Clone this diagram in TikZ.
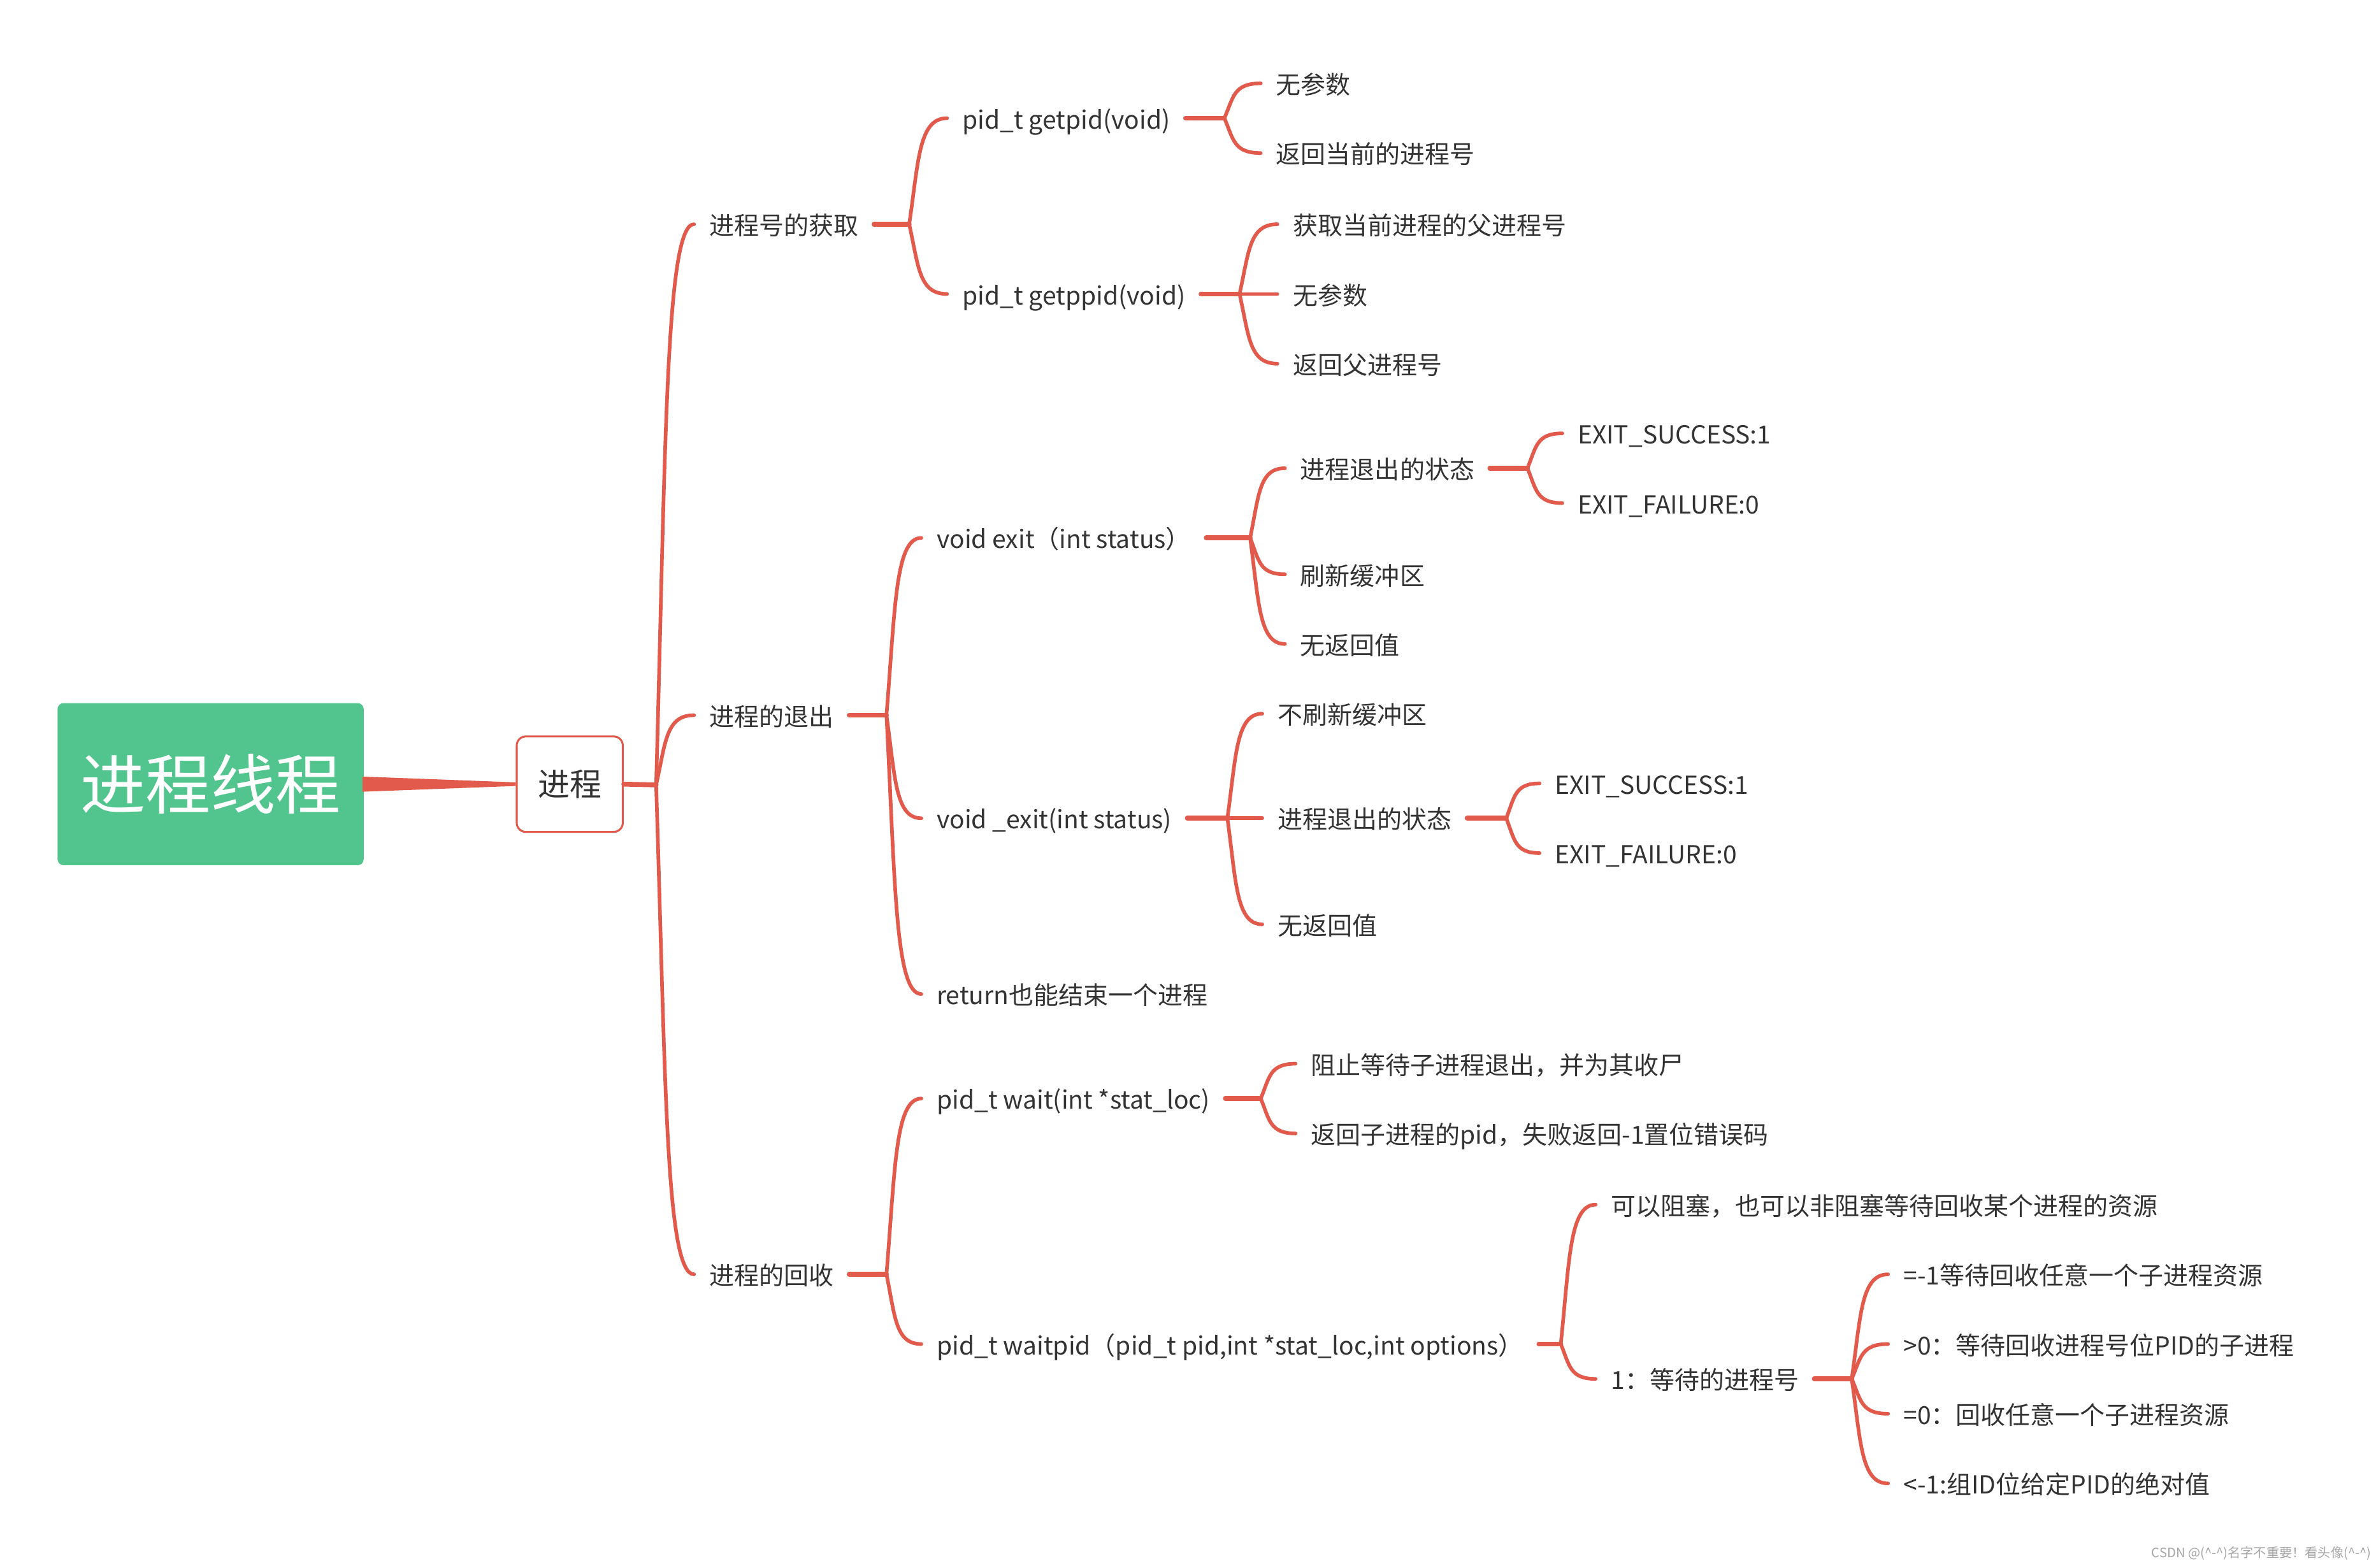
\documentclass[tikz,border=0pt]{standalone}
\usepackage{fontspec}
\setmainfont{Noto Sans CJK SC}
\usetikzlibrary{calc}
\definecolor{lineRed}{HTML}{E25A4C}
\definecolor{rootGreen}{HTML}{52C48D}
\definecolor{txt}{HTML}{333333}
\begin{document}
\begin{tikzpicture}[x=1pt,y=-1pt,
 leaf/.style={anchor=west, inner xsep=10pt, inner ysep=0pt, text=txt, font=\fontsize{16.4}{20}\selectfont, text height=15pt, text depth=1pt},
 branch/.style={draw=lineRed, line width=2.4pt, line cap=round, to path={let \p1=(\tikztostart), \p2=(\tikztotarget) in .. controls ({\x1+0.25*(\x2-\x1)}, {\y1+0.6*(\y2-\y1)}) and ({\x1+0.25*(\x2-\x1)}, \y2) .. (\tikztotarget)}},
 stub/.style={draw=lineRed, line width=3.2pt, line cap=round}]
\fill[white] (0,0) rectangle (1568,1034.4);
\useasboundingbox (0,0) rectangle (1568,1034.4);

% root and main
\node[fill=rootGreen, rounded corners=4pt, minimum width=202pt, minimum height=107pt, text=white, font=\fontsize{43}{50}\selectfont, inner sep=0pt] (root) at (139,517.5) {进程线程};
\node[draw=lineRed, line width=1.3pt, fill=white, rounded corners=6pt, minimum width=70pt, minimum height=63pt, text=txt, font=\fontsize{21}{25}\selectfont, inner sep=0pt] (proc) at (376,517.5) {进程};
\fill[lineRed] ($(root.east)+(-1,-5)$) -- ($(root.east)+(-1,5)$) -- ($(proc.west)+(0,1.2)$) -- ($(proc.west)+(0,-1.2)$) -- cycle;
\coordinate (J0) at (433,518);
\draw[stub] (proc.east) -- (J0);

% level 1
\node[leaf] (n1) at (458,148) {进程号的获取};
\node[leaf] (n2) at (458,472) {进程的退出};
\node[leaf] (n3) at (458,841) {进程的回收};
\draw[branch] (J0) to (n1.west);
\draw[branch] (J0) to (n2.west);
\draw[branch] (J0) to (n3.west);

% branch 1
\coordinate (J1) at (600,148);
\draw[stub] (n1.east) -- (J1);
\node[leaf] (n11) at (625,78) {pid\_t getpid(void)};
\node[leaf] (n12) at (625,194) {pid\_t getppid(void)};
\draw[branch] (J1) to (n11.west);
\draw[branch] (J1) to (n12.west);
\coordinate (J11) at (808,78);
\draw[stub] (n11.east) -- (J11);
\node[leaf] (n111) at (832,55) {无参数};
\node[leaf] (n112) at (832,101) {返回当前的进程号};
\draw[branch] (J11) to (n111.west);
\draw[branch] (J11) to (n112.west);
\coordinate (J12) at (818,194);
\draw[stub] (n12.east) -- (J12);
\node[leaf] (n121) at (843,148) {获取当前进程的父进程号};
\node[leaf] (n122) at (843,194) {无参数};
\node[leaf] (n123) at (843,240) {返回父进程号};
\draw[branch] (J12) to (n121.west);
\draw[branch] (J12) to (n122.west);
\draw[branch] (J12) to (n123.west);

% branch 2
\coordinate (J2) at (585,472);
\draw[stub] (n2.east) -- (J2);
\node[leaf] (n21) at (608,355) {void exit（int status）};
\node[leaf] (n22) at (608,540) {void \_exit(int status)};
\node[leaf] (n23) at (608,656) {return也能结束一个进程};
\draw[branch] (J2) to (n21.west);
\draw[branch] (J2) to (n22.west);
\draw[branch] (J2) to (n23.west);
\coordinate (J21) at (825,355);
\draw[stub] (n21.east) -- (J21);
\node[leaf] (n211) at (848,309) {进程退出的状态};
\node[leaf] (n212) at (848,379) {刷新缓冲区};
\node[leaf] (n213) at (848,425) {无返回值};
\draw[branch] (J21) to (n211.west);
\draw[branch] (J21) to (n212.west);
\draw[branch] (J21) to (n213.west);
\coordinate (J211) at (1008,309);
\draw[stub] (n211.east) -- (J211);
\node[leaf] (n2111) at (1031,286) {EXIT\_SUCCESS:1};
\node[leaf] (n2112) at (1031,332) {EXIT\_FAILURE:0};
\draw[branch] (J211) to (n2111.west);
\draw[branch] (J211) to (n2112.west);
\coordinate (J22) at (810,540);
\draw[stub] (n22.east) -- (J22);
\node[leaf] (n221) at (833,471) {不刷新缓冲区};
\node[leaf] (n222) at (833,540) {进程退出的状态};
\node[leaf] (n223) at (833,610) {无返回值};
\draw[branch] (J22) to (n221.west);
\draw[branch] (J22) to (n222.west);
\draw[branch] (J22) to (n223.west);
\coordinate (J222) at (994,540);
\draw[stub] (n222.east) -- (J222);
\node[leaf] (n2221) at (1016,517) {EXIT\_SUCCESS:1};
\node[leaf] (n2222) at (1016,563) {EXIT\_FAILURE:0};
\draw[branch] (J222) to (n2221.west);
\draw[branch] (J222) to (n2222.west);

% branch 3
\coordinate (J3) at (585,841);
\draw[stub] (n3.east) -- (J3);
\node[leaf] (n31) at (608,725) {pid\_t wait(int *stat\_loc)};
\node[leaf] (n32) at (608,887) {pid\_t waitpid（pid\_t pid,int *stat\_loc,int options）};
\draw[branch] (J3) to (n31.west);
\draw[branch] (J3) to (n32.west);
\coordinate (J31) at (832,725);
\draw[stub] (n31.east) -- (J31);
\node[leaf] (n311) at (855,702) {阻止等待子进程退出，并为其收尸};
\node[leaf] (n312) at (855,748) {返回子进程的pid，失败返回-1置位错误码};
\draw[branch] (J31) to (n311.west);
\draw[branch] (J31) to (n312.west);
\coordinate (J32) at (1030,887);
\draw[stub] (n32.east) -- (J32);
\node[leaf] (n321) at (1053,795) {可以阻塞，也可以非阻塞等待回收某个进程的资源};
\node[leaf] (n322) at (1053,910) {1：等待的进程号};
\draw[branch] (J32) to (n321.west);
\draw[branch] (J32) to (n322.west);
\coordinate (J322) at (1222,910);
\draw[stub] (n322.east) -- (J322);
\node[leaf] (n3221) at (1246,841) {=-1等待回收任意一个子进程资源};
\node[leaf] (n3222) at (1246,887) {>0：等待回收进程号位PID的子进程};
\node[leaf] (n3223) at (1246,933) {=0：回收任意一个子进程资源};
\node[leaf] (n3224) at (1246,979) {<-1:组ID位给定PID的绝对值};
\draw[branch] (J322) to (n3221.west);
\draw[branch] (J322) to (n3222.west);
\draw[branch] (J322) to (n3223.west);
\draw[branch] (J322) to (n3224.west);

% watermark
\node[anchor=east, inner sep=0pt, text=black!35, font=\fontsize{8.5}{10}\selectfont] (wm) at (1565,1025) {CSDN @(\textasciicircum-\textasciicircum)名字不重要！看头像(\textasciicircum-\textasciicircum)};
\end{tikzpicture}
\end{document}
